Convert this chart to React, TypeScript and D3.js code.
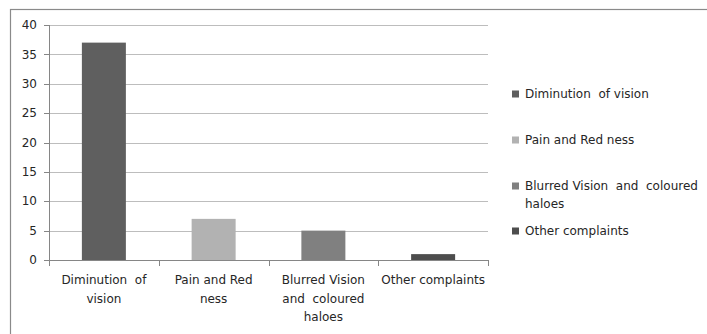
import React, { useEffect, useRef } from 'react';
import * as d3 from 'd3';

const categories = [
  'Diminution  of vision',
  'Pain and Red ness',
  'Blurred Vision  and  coloured haloes',
  'Other complaints',
];
const axisLabels = [
  ['Diminution  of', 'vision'],
  ['Pain and Red', 'ness'],
  ['Blurred Vision', 'and  coloured', 'haloes'],
  ['Other complaints'],
];
const legendLabels = [
  ['Diminution  of vision'],
  ['Pain and Red ness'],
  ['Blurred Vision  and  coloured', 'haloes'],
  ['Other complaints'],
];
const values = [37, 7, 5, 1];
const colors = ['#5f5f5f', '#b2b2b2', '#808080', '#4d4d4d'];
const yTicks = [0, 5, 10, 15, 20, 25, 30, 35, 40];

export default function App() {
  const ref = useRef<SVGSVGElement>(null);

  useEffect(() => {
    const svg = d3.select(ref.current);
    svg.selectAll('*').remove();
    const font = 'DejaVu Sans, sans-serif';

    // outer frame (cropped on right/bottom)
    svg.append('rect')
      .attr('x', 10.5).attr('y', 9.5)
      .attr('width', 720).attr('height', 340)
      .attr('fill', 'none').attr('stroke', '#8a8a8a').attr('stroke-width', 1.2);

    const x = d3.scaleBand().domain(categories).range([49, 488]);
    const y = d3.scaleLinear().domain([0, 40]).range([260, 25]);

    // grid
    svg.append('g').selectAll('line').data(yTicks.slice(1)).join('line')
      .attr('x1', 49).attr('x2', 488)
      .attr('y1', d => Math.round(y(d)) + 0.5).attr('y2', d => Math.round(y(d)) + 0.5)
      .attr('stroke', '#bdbdbd');

    // bars
    const bw = 44;
    svg.append('g').selectAll('rect').data(values).join('rect')
      .attr('x', (d, i) => x(categories[i])! + x.bandwidth() / 2 - bw / 2)
      .attr('width', bw)
      .attr('y', d => y(d))
      .attr('height', d => y(0) - y(d))
      .attr('fill', (d, i) => colors[i]);

    // y axis
    const ya = svg.append('g');
    ya.append('line').attr('x1', 49.5).attr('x2', 49.5).attr('y1', 25).attr('y2', 260)
      .attr('stroke', '#868686');
    ya.selectAll('line.t').data(yTicks).join('line').attr('class', 't')
      .attr('x1', 44).attr('x2', 49)
      .attr('y1', d => Math.round(y(d)) + 0.5).attr('y2', d => Math.round(y(d)) + 0.5)
      .attr('stroke', '#868686');
    ya.selectAll('text').data(yTicks).join('text')
      .attr('x', 37).attr('y', d => y(d)).attr('dy', '0.35em')
      .attr('text-anchor', 'end').attr('font-family', font).attr('font-size', 12)
      .attr('fill', '#262626').text(d => d);

    // x axis
    const xa = svg.append('g');
    xa.append('line').attr('x1', 49).attr('x2', 488).attr('y1', 260.5).attr('y2', 260.5)
      .attr('stroke', '#868686');
    const edges = [...categories.map(c => x(c)!), 488];
    xa.selectAll('line.t').data(edges).join('line').attr('class', 't')
      .attr('x1', d => Math.round(d) + 0.5).attr('x2', d => Math.round(d) + 0.5)
      .attr('y1', 260).attr('y2', 266).attr('stroke', '#868686');
    axisLabels.forEach((lines, i) => {
      const cx = x(categories[i])! + x.bandwidth() / 2;
      const t = xa.append('text').attr('text-anchor', 'middle')
        .attr('font-family', font).attr('font-size', 12).attr('fill', '#262626')
        .style('white-space', 'pre');
      lines.forEach((l, j) => {
        t.append('tspan').attr('x', cx).attr('y', 284 + j * 18.5).text(l);
      });
    });

    // legend
    const rowY = [94, 140, 186, 231];
    const lg = svg.append('g');
    legendLabels.forEach((lines, i) => {
      lg.append('rect').attr('x', 512).attr('y', rowY[i] - 3.5).attr('width', 7).attr('height', 7)
        .attr('fill', colors[i]);
      const t = lg.append('text').attr('font-family', font).attr('font-size', 12)
        .attr('fill', '#262626').style('white-space', 'pre');
      lines.forEach((l, j) => {
        t.append('tspan').attr('x', 525).attr('y', rowY[i] + 4 + j * 18).text(l);
      });
    });
  }, []);

  return (
    <svg ref={ref} width={707} height={334}
      style={{ position: 'absolute', left: 0, top: 0, background: '#fff' }} />
  );
}
